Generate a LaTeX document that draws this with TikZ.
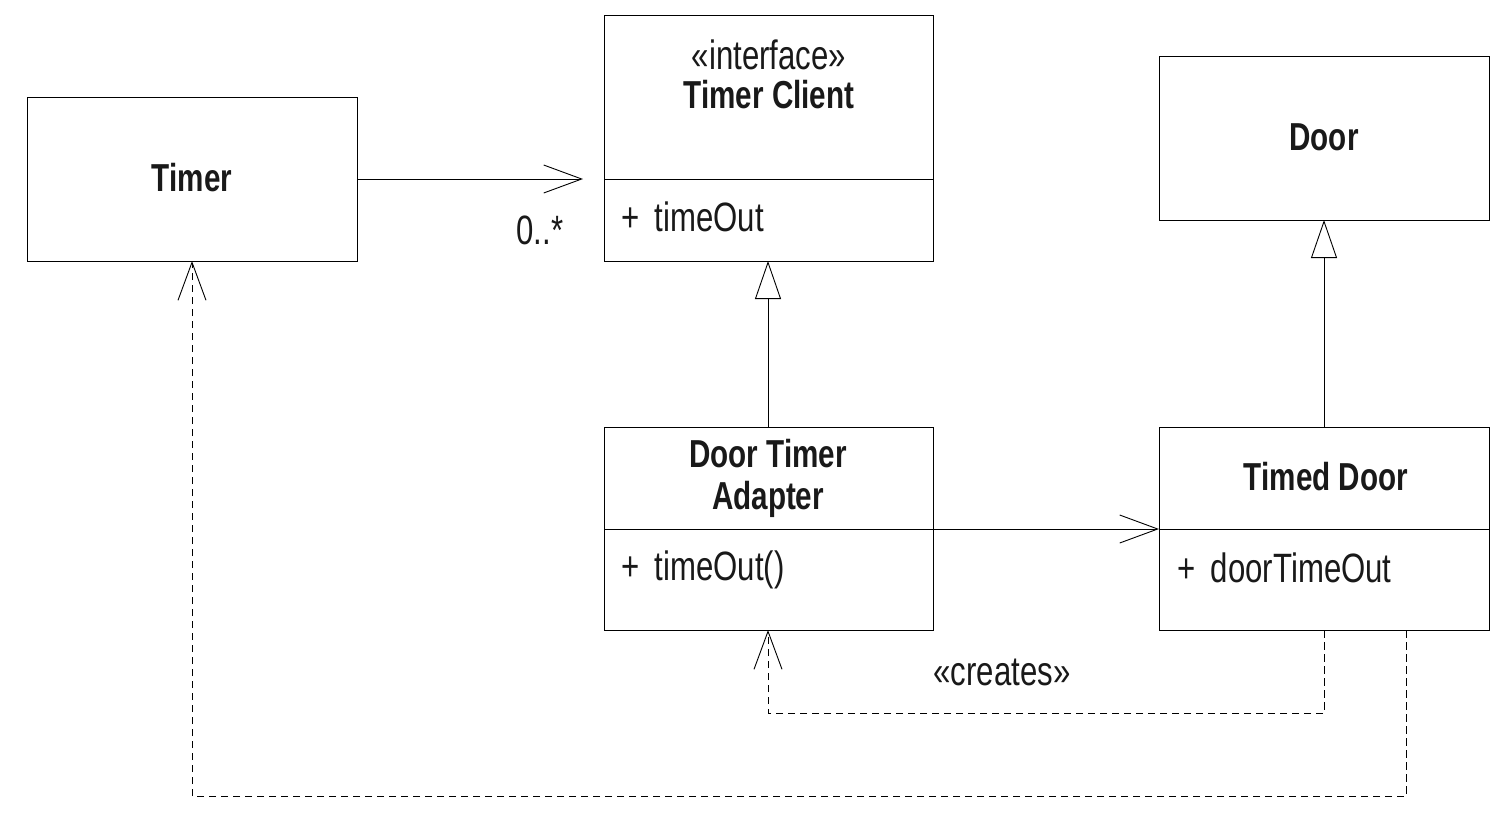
\documentclass[tikz,border=0pt]{standalone}
\usepackage{fontspec}
\setmainfont[FakeStretch=0.76]{Liberation Sans}
\usetikzlibrary{arrows.meta}
\begin{document}
\begin{tikzpicture}[x=1pt,y=-1pt,
  box/.style={draw,line width=0.9pt,inner sep=0pt,anchor=north west},
  ln/.style={line width=0.9pt},
  open/.style={line width=0.9pt,-{Straight Barb[length=38pt,width=28pt,line width=0.9pt]}},
  gen/.style={line width=0.9pt,-{Triangle[open,length=38pt,width=26pt,line width=0.9pt,fill=white]}},
  dep/.style={open,dash pattern=on 7.5pt off 4.5pt},
  bt/.style={font=\fontsize{39}{42}\selectfont\bfseries,align=center,inner sep=0pt},
  rt/.style={font=\fontsize{41}{44}\selectfont,inner sep=0pt},
  every node/.append style={text=black!90}]
\useasboundingbox (0,0) rectangle (1501,817);
% class boxes
\node[box,minimum width=330pt,minimum height=164pt] (timer) at (27,97) {};
\node[box,minimum width=329pt,minimum height=246pt] (tc) at (604,15) {};
\node[box,minimum width=330pt,minimum height=164pt] (door) at (1159,56) {};
\node[box,minimum width=329pt,minimum height=203pt] (dta) at (604,427) {};
\node[box,minimum width=330pt,minimum height=203pt] (td) at (1159,427) {};
% dividers
\coordinate (tcL) at (604,179); \coordinate (tcR) at (933,179);
\draw[ln] (tcL) -- (tcR);
\coordinate (dtaL) at (604,529); \coordinate (dtaR) at (933,529);
\draw[ln] (dtaL) -- (dtaR);
\coordinate (tdL) at (1159,529); \coordinate (tdR) at (1489,529);
\draw[ln] (tdL) -- (tdR);
% texts
\node[bt] (timerT) at (192,178) {Timer};
\node[rt] (tcS) at (769,55) {«interface»};
\node[bt] (tcT) at (769,95) {Timer Client};
\node[rt,anchor=west] (tcA) at (621,217) {+ \,timeOut};
\node[bt] (doorT) at (1324,137) {Door};
\node[bt,anchor=base] (dtaT1) at (768,467) {Door Timer};
\node[bt,anchor=base] (dtaT2) at (768,509) {Adapter};
\node[rt,anchor=west] (dtaA) at (621,570) {+ \,timeOut()};
\node[bt] (tdT) at (1326,477) {Timed Door};
\node[rt,anchor=west] (tdA) at (1177,568) {+ \,doorTimeOut};
% connectors
\coordinate (a1) at (357,179); \coordinate (a1e) at (583,179);
\draw[open] (a1) -- (a1e);
\node[rt] (mult) at (540,230) {0..*};
\coordinate (g1s) at (768,427); \coordinate (g1e) at (768,261);
\draw[gen] (g1s) -- (g1e);
\coordinate (g2s) at (1324,427); \coordinate (g2e) at (1324,220);
\draw[gen] (g2s) -- (g2e);
\coordinate (a2) at (933,529); \coordinate (a2e) at (1159,529);
\draw[open] (a2) -- (a2e);
\coordinate (d1s) at (1324,630); \coordinate (d1e) at (768,630);
\draw[dep] (d1s) -- (1324,713) -- (768,713) -- (d1e);
\node[rt] (creates) at (1002,672) {«creates»};
\coordinate (d2s) at (1406,630); \coordinate (d2e) at (192,261);
\draw[dep] (d2s) -- (1406,796) -- (192,796) -- (d2e);
\end{tikzpicture}
\end{document}
